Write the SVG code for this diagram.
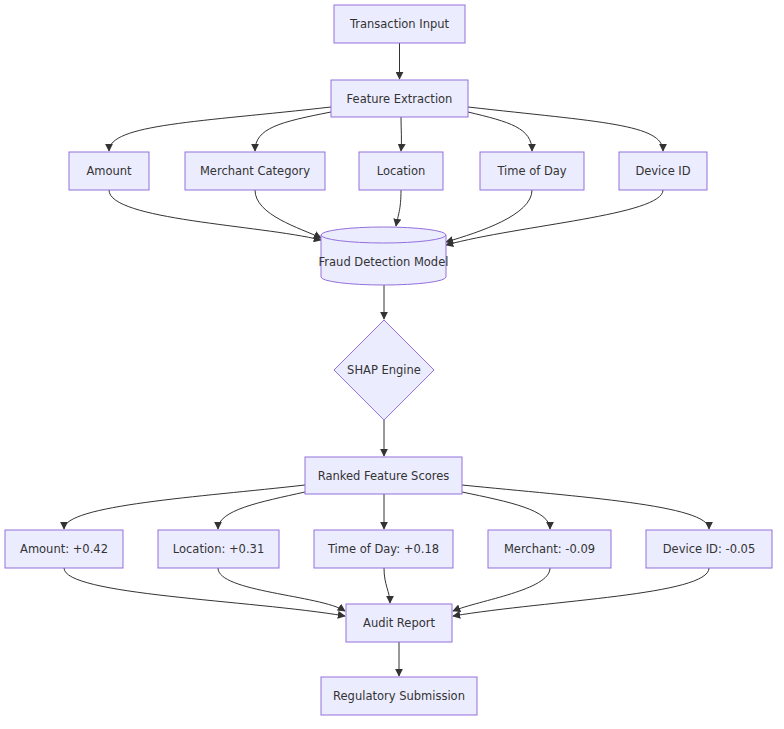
<svg xmlns="http://www.w3.org/2000/svg" width="784" height="729" viewBox="0 0 784 729">
<style>
.n{fill:#ECECFF;stroke:#9370DB;stroke-width:1}
.t{font-family:"DejaVu Sans","Liberation Sans",sans-serif;font-size:11.5px;fill:#333;text-anchor:middle;dominant-baseline:central}
.e{fill:none;stroke:#333;stroke-width:1;marker-end:url(#a)}
</style>
<defs><marker id="a" viewBox="0 0 10 10" refX="9" refY="5" markerWidth="8" markerHeight="8" orient="auto"><path d="M0,0L10,5L0,10z" fill="#333"/></marker></defs>
<rect width="784" height="729" fill="#fff"/>
<g id="edges">
<path class="e" d="M399.5,43V79"/>
<path class="e" d="M331,107C200,122 109,124 109,151"/>
<path class="e" d="M331,112C280,122 255,128 255,151"/>
<path class="e" d="M401,117C401,130 402,140 401,151"/>
<path class="e" d="M468,112C510,122 532,128 532,151"/>
<path class="e" d="M468,107C600,122 663,124 663,151"/>
<path class="e" d="M109,190C109,220 260,225 321,240"/>
<path class="e" d="M255,190C255,215 300,228 321,238"/>
<path class="e" d="M401,190C401,210 398,215 396,226"/>
<path class="e" d="M532,190C532,215 480,232 446,242"/>
<path class="e" d="M663,190C663,215 520,225 446,245"/>
<path class="e" d="M384,285V319"/>
<path class="e" d="M384,420V456"/>
<path class="e" d="M305,485C200,497 64,505 64,529"/>
<path class="e" d="M305,492C260,502 218,510 218,529"/>
<path class="e" d="M384,494V529"/>
<path class="e" d="M462,492C510,502 550,510 550,529"/>
<path class="e" d="M462,485C580,497 709,505 709,529"/>
<path class="e" d="M64,568C64,595 250,600 345,616"/>
<path class="e" d="M218,568C218,592 320,595 345,611"/>
<path class="e" d="M384,568C384,585 390,592 390,603"/>
<path class="e" d="M550,568C550,590 480,600 453,611"/>
<path class="e" d="M709,568C709,595 550,600 453,616"/>
<path class="e" d="M399,642V676"/>
</g>
<g id="n1"><rect class="n" x="334" y="5" width="131" height="38"/><text class="t" x="399.5" y="24">Transaction Input</text></g>
<g id="n2"><rect class="n" x="331" y="80" width="137" height="37"/><text class="t" x="399.5" y="98.5">Feature Extraction</text></g>
<g id="n3"><rect class="n" x="69" y="152" width="80" height="38"/><text class="t" x="109" y="171">Amount</text></g>
<g id="n4"><rect class="n" x="185" y="152" width="140" height="38"/><text class="t" x="255" y="171">Merchant Category</text></g>
<g id="n5"><rect class="n" x="359" y="152" width="84" height="38"/><text class="t" x="401" y="171">Location</text></g>
<g id="n6"><rect class="n" x="480" y="152" width="104" height="38"/><text class="t" x="532" y="171">Time of Day</text></g>
<g id="n7"><rect class="n" x="619" y="152" width="88" height="38"/><text class="t" x="663" y="171">Device ID</text></g>
<g id="n8"><path class="n" d="M321,235A62.5,8 0 0 1 446,235V277A62.5,8 0 0 1 321,277Z"/><path class="n" d="M321,235A62.5,8 0 0 0 446,235" fill="none"/><text class="t" x="383.5" y="262">Fraud Detection Model</text></g>
<g id="n9"><path class="n" d="M384,320L434,370L384,420L334,370Z"/><text class="t" x="384" y="370">SHAP Engine</text></g>
<g id="n10"><rect class="n" x="305" y="457" width="157" height="37"/><text class="t" x="383.5" y="475.5">Ranked Feature Scores</text></g>
<g id="n11"><rect class="n" x="5" y="530" width="118" height="38"/><text class="t" x="64" y="549">Amount: +0.42</text></g>
<g id="n12"><rect class="n" x="158" y="530" width="121" height="38"/><text class="t" x="218.5" y="549">Location: +0.31</text></g>
<g id="n13"><rect class="n" x="314" y="530" width="139" height="38"/><text class="t" x="383.5" y="549">Time of Day: +0.18</text></g>
<g id="n14"><rect class="n" x="488" y="530" width="123" height="38"/><text class="t" x="549.5" y="549">Merchant: -0.09</text></g>
<g id="n15"><rect class="n" x="646" y="530" width="126" height="38"/><text class="t" x="709" y="549">Device ID: -0.05</text></g>
<g id="n16"><rect class="n" x="346" y="604" width="106" height="38"/><text class="t" x="399" y="623">Audit Report</text></g>
<g id="n17"><rect class="n" x="321" y="677" width="156" height="38"/><text class="t" x="399" y="696">Regulatory Submission</text></g>
</svg>
